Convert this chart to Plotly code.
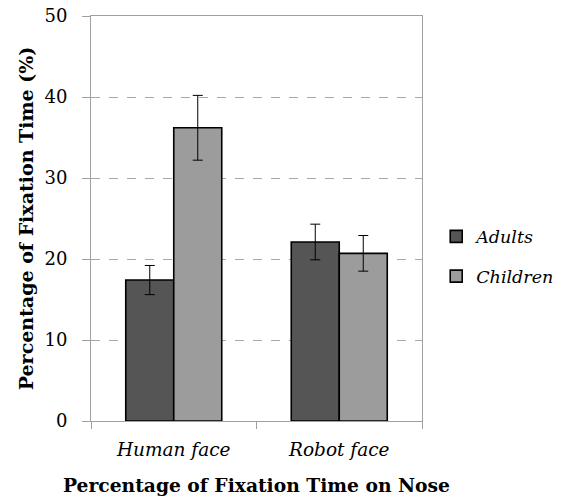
import plotly.graph_objects as go

categories = ["Human face", "Robot face"]
series_names = ["Adults", "Children"]
adults = [17.4, 22.1]
adults_err = [1.8, 2.2]
children = [36.2, 20.7]
children_err = [4.0, 2.2]
y_ticks = [0, 10, 20, 30, 40, 50]

FONT = "DejaVu Serif"
cat_labels = [f"<i>{c}</i>" for c in categories]

fig = go.Figure()
fig.add_trace(go.Bar(
    x=cat_labels, y=adults, name=f"<i>{series_names[0]}</i>", legendgroup="a",
    marker=dict(color="#555555", line=dict(color="#000000", width=1.6)),
    error_y=dict(type="data", array=adults_err, color="#000000", thickness=1, width=5),
))
fig.add_trace(go.Bar(
    x=cat_labels, y=children, name=f"<i>{series_names[1]}</i>", legendgroup="c",
    marker=dict(color="#9c9c9c", line=dict(color="#000000", width=1.6)),
    error_y=dict(type="data", array=children_err, color="#000000", thickness=1, width=5),
))

fig.update_layout(
    width=557, height=490,
    margin=dict(l=83, r=143, t=8, b=77, autoexpand=False),
    paper_bgcolor="white", plot_bgcolor="white",
    barmode="group", bargap=0.42, bargroupgap=0,
    font=dict(family=FONT, color="#000000", size=18),
    legend=dict(x=1.043, y=0.5, xanchor="left", yanchor="top",
                font=dict(family=FONT, size=17.5), tracegroupgap=14,
                itemwidth=30, borderwidth=0, bgcolor="rgba(0,0,0,0)"),
    xaxis=dict(
        automargin=False,
        showline=True, linecolor="#a0a0a0", linewidth=1, mirror=True,
        ticks="outside", tickson="boundaries", ticklen=7, tickcolor="#a0a0a0",
        ticklabelstandoff=12, ticklabeloverflow="allow",
        tickfont=dict(family=FONT, size=18.5),
        title=dict(text="<b>Percentage of Fixation Time on Nose</b>",
                   font=dict(family=FONT, size=18.7), standoff=19),
    ),
    yaxis=dict(
        automargin=False,
        range=[0, 50], tickvals=y_ticks,
        showline=True, linecolor="#a0a0a0", linewidth=1, mirror=True,
        ticks="outside", ticklen=8, tickcolor="#a0a0a0",
        ticklabelstandoff=11, ticklabeloverflow="allow",
        showgrid=True, gridcolor="#a8a8a8", griddash="dash", gridwidth=1,
        zeroline=False,
        tickfont=dict(family=FONT, size=18),
        title=dict(text="<b>Percentage of Fixation Time (%)</b>",
                   font=dict(family=FONT, size=19), standoff=5),
    ),
)

fig.write_html("out.html")
